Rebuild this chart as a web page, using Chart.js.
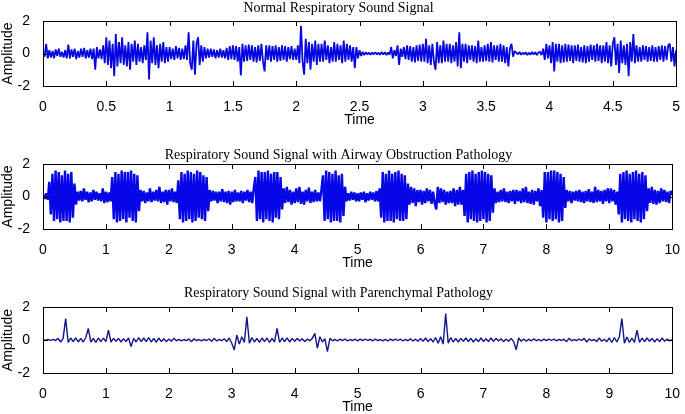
<!DOCTYPE html>
<html>
<head>
<meta charset="utf-8">
<script src="https://cdn.jsdelivr.net/npm/chart.js@4.4.0/dist/chart.umd.min.js"></script>
<style>
  html, body { margin: 0; padding: 0; background: #fff; overflow: hidden; }
  #wrap { position: relative; width: 685px; height: 414px; }
  canvas { position: absolute; left: 0; }
</style>
</head>
<body>
<div id="wrap">
  <canvas id="c1" width="685" height="130" style="top:0px"></canvas>
  <canvas id="c2" width="685" height="133" style="top:140px"></canvas>
  <canvas id="c3" width="685" height="137" style="top:280px"></canvas>
</div>
<script>
// subplot titles
const titles = [
  'Normal Respiratory Sound Signal',
  'Respiratory Sound Signal with Airway Obstruction Pathology',
  'Respiratory Sound Signal with Parenchymal Pathology'
];
const yTicks = [-2, 0, 2];

// sample spacing (s) for each trace
const dtNormal = 0.0125;
const dtAirway = 0.025;
const dtParen = 0.04;

// normal breathing, 0..5 s (16 samples per row = 0.2 s)
const normalSignal = [
  0.05, -0.2, 0.6, -0.3, 0.2, -0.25, 0.15, -0.3, 0.25, -0.15, 0.3, -0.2, 0.1, -0.25, 0.2, -0.3,
  0.55, -0.3, 0.25, -0.2, 0.3, -0.35, 0.15, -0.25, 0.3, -0.2, 0.35, -0.3, 0.2, -0.25, 0.3, -0.35,
  0.3, -1.0, 0.4, -0.3, 0.25, -0.35, 0.5, -0.6, 1.0, -0.7, 0.8, -0.9, 0.6, -1.4, 1.2, -0.8,
  0.7, -0.6, 1.0, -0.7, 0.5, -0.8, 0.7, -1.0, 0.6, -0.5, 0.8, -0.7, 0.6, -0.5, 0.4, -0.6,
  0.5, -0.4, 1.3, -1.6, 0.8, -0.6, 1.0, -0.7, 0.5, -0.9, 0.6, -0.5, 0.7, -0.6, 0.4, -0.5,
  0.4, -0.35, 0.3, -0.4, 0.45, -0.3, 0.35, -0.4, 0.3, -0.35, 0.5, -0.4, 1.3, -0.6, -1.0, 0.8,
  -1.3, 0.6, 1.0, -0.7, 0.5, -0.5, 0.4, -0.3, 0.3, -0.25, 0.3, -0.2, 0.25, -0.3, 0.2, -0.25,
  0.3, -0.25, 0.2, -0.3, 0.35, -0.4, 0.45, -0.35, 0.5, -0.4, 0.45, -0.5, 0.4, -1.35, 0.6, -0.5,
  0.5, -0.45, 0.55, -0.4, 0.5, -0.5, 0.4, -0.55, 0.5, -0.45, 0.6, -0.5, -1.1, 0.5, -0.4, 0.5,
  -0.5, 0.45, -0.4, 0.5, -0.5, 0.4, -0.45, 0.5, -0.4, 0.45, -0.5, 0.4, -0.35, 0.45, -0.4, 0.3,
  -0.4, 0.5, -0.6, 1.7, -0.5, -1.3, 0.9, -0.6, 0.7, -1.0, 0.6, -0.5, 0.8, -0.7, 0.6, -0.5,
  0.6, -0.5, 0.8, -0.4, 0.5, -0.6, 0.4, -0.5, 0.7, -0.5, 0.6, -0.4, 0.5, -0.6, 0.8, -0.5,
  0.6, -0.4, 0.5, -0.5, 0.4, -0.9, 0.4, -0.3, 0.2, -0.15, 0.1, -0.1, 0.08, -0.06, 0.05, -0.08,
  0.06, -0.05, 0.08, -0.06, 0.05, -0.08, 0.1, -0.06, 0.08, -0.1, 0.06, -0.08, 0.4, -0.3, 0.2, -0.15,
  0.5, -0.7, 0.3, -0.2, 0.4, -0.35, 0.5, -0.4, 0.45, -0.5, 0.4, -0.55, 0.5, -0.45, 0.55, -0.5,
  0.6, -0.5, 0.9, -0.6, 0.5, -0.7, 0.6, -0.5, -1.0, 0.7, -0.6, 0.5, -0.6, 0.8, -0.5, 0.6,
  -0.5, 0.6, -0.6, 0.5, -0.5, 0.7, -0.8, 1.3, -0.9, 0.6, -0.5, 0.6, -0.6, 0.5, -0.4, 0.5,
  -0.5, 0.45, -0.6, 0.8, -0.5, 0.4, -0.5, 0.5, -0.45, 0.6, -0.5, 0.7, -0.55, 0.5, -0.4, 0.5,
  -0.5, 0.6, -0.5, 0.5, -0.6, 0.4, -0.8, 0.3, 0.6, -0.2, 0.15, 0.05, -0.05, 0.1, -0.08, 0.05,
  -0.05, 0.08, -0.1, 0.05, -0.08, 0.1, -0.06, 0.08, -0.1, 0.06, 0.1, -0.1, 0.3, -0.4, 0.6, -0.3,
  0.5, -0.6, 0.7, -1.1, 0.6, -0.5, 0.6, -0.6, 0.5, -0.55, 0.6, -0.5, 0.55, -0.45, 0.5, -0.6,
  0.5, -0.45, 0.55, -0.5, 0.4, -0.55, 0.5, -0.6, 0.45, -0.5, 0.55, -0.4, 0.5, -0.5, 0.6, -0.45,
  0.5, -0.6, 0.5, -0.5, 0.7, -0.6, 0.5, -0.8, 0.6, 1.0, -0.7, 0.6, -1.2, 0.8, -0.6, 0.5,
  -0.7, 0.6, -1.4, 0.7, -0.5, 1.2, -0.6, 0.5, -0.5, 0.4, -0.5, 0.5, -0.4, 0.45, -0.5, 0.4,
  -0.45, 0.5, -0.5, 0.4, -0.5, 0.45, -0.4, 0.5, -0.5, 0.45, -0.4, 0.5, 0.6, -0.5, 0.4, -0.8,
  0.2
];

// airway obstruction, 0..10 s (20 samples per row = 0.5 s)
const airwaySignal = [
  0.1, -0.15, 0.2, -0.2, 0.9, -1.1, 1.4, -1.5, 1.6, -1.4, 1.5, -1.6, 1.3, -1.5, 1.6, -1.5, 1.4, -1.6, 1.5, -1.3,
  0.8, -0.5, 0.3, -0.25, 0.35, -0.3, 0.5, -0.2, 0.3, -0.35, 0.25, -0.3, 0.4, -0.2, 0.3, -0.25, 0.2, -0.3, 0.5, -0.4,
  0.3, -0.35, 0.25, -0.3, 1.2, -1.4, 1.5, -1.6, 1.4, -1.5, 1.6, -1.4, 1.5, -1.6, 1.5, -1.3, 1.6, -1.5, 1.4, -1.6,
  1.3, -0.9, 0.4, -0.3, 0.35, -0.4, 0.25, -0.3, 0.5, -0.35, 0.3, -0.25, 0.4, -0.3, 0.6, -0.4, 0.3, -0.35, 0.4, -0.5,
  0.4, -0.3, 0.5, -0.35, 0.3, -0.4, 1.0, -1.4, 1.5, -1.6, 1.4, -1.5, 1.6, -1.4, 1.5, -1.6, 1.4, -1.5, 1.6, -1.3,
  1.5, -1.4, 1.3, -1.5, 1.2, -0.9, 0.4, -0.3, 0.35, -0.25, 0.3, -0.4, 0.3, -0.3, 0.45, -0.35, 0.3, -0.4, 0.35, -0.5,
  0.3, -0.35, 0.4, -0.3, 0.25, -0.3, 0.35, -0.4, 0.3, -0.25, 0.4, -0.35, 0.3, -0.4, 0.5, 1.2, -1.5, 1.6, -1.4, 1.5,
  -1.6, 1.5, -1.4, 1.6, -1.5, 1.4, -1.6, 1.5, -1.3, 1.5, -1.4, 1.2, -0.8, 0.5, -0.4, 0.6, -0.35, 0.4, -0.5, 0.3,
  -0.4, 0.5, -0.35, 0.6, -0.45, 0.3, -0.5, 0.4, -0.3, 0.55, -0.4, 0.3, -0.35, 0.4, -0.3, 0.25, -0.3, 0.4, 1.3, -1.5,
  1.6, -1.4, 1.5, -1.6, 1.4, -1.5, 1.6, -1.5, 1.3, -1.6, 1.4, -1.2, 0.6, -0.3, 0.2, -0.25, 0.3, -0.2, 0.25, -0.3,
  0.2, -0.3, 0.25, -0.2, 0.3, -0.35, 0.2, -0.25, 0.3, -0.2, 0.25, -0.3, 0.35, -0.3, 0.5, -1.3, 1.5, -1.6, 1.4, -1.5,
  1.6, -1.5, 1.4, -1.6, 1.5, -1.4, 1.6, -1.5, 1.4, -1.5, 1.3, -1.4, 0.8, -0.5, 0.6, -0.4, 0.5, -0.6, 0.4, -0.35,
  0.4, -0.5, 0.35, -0.4, 0.5, -0.3, 0.4, -0.45, 0.3, -0.4, -0.8, 0.6, -0.4, 0.5, -0.35, 0.4, -0.5, 0.3, -0.4, 0.35,
  -0.4, 0.5, -0.6, 0.4, -0.5, 0.6, -0.5, 0.4, -1.2, 1.4, -1.6, 1.5, -1.4, 1.6, -1.5, 1.4, -1.6, 1.5, -1.5, 1.6,
  -1.4, 1.5, -1.6, 1.4, -1.5, 1.3, -1.0, 0.5, -0.4, 0.3, -0.35, 0.4, -0.3, 0.5, -0.35, 0.3, -0.4, 0.35, -0.3, 0.4,
  -0.45, 0.4, -0.3, 0.35, -0.4, 0.5, -0.35, 0.6, -0.4, 0.3, -0.45, 0.4, -0.5, 0.35, -0.3, 0.5, -0.6, 0.4, -1.3, 1.5,
  -1.6, 1.5, -1.4, 1.6, -1.5, 1.6, -1.4, 1.5, -1.6, 1.4, -1.5, 1.2, -0.7, 0.4, -0.3, 0.35, -0.4, 0.3, -0.25, 0.35,
  -0.3, 0.4, -0.35, 0.3, -0.4, 0.35, -0.3, 0.45, -0.35, 0.3, -0.4, 0.6, -0.35, 0.4, -0.3, 0.35, -0.45, 0.4, -0.3, 0.5,
  -0.4, 0.5, -0.3, 0.4, -0.5, 0.3, -1.1, 1.4, -1.6, 1.5, -1.4, 1.6, -1.5, 1.4, -1.6, 1.5, -1.4, 1.6, -1.5, 1.4,
  -1.6, 1.5, -1.4, 1.3, -0.9, 0.5, -0.4, 0.6, -0.45, 0.4, -0.5, 0.35, -0.4, 0.5, -0.3, 0.4, -0.35, 0.3, -0.4, 0.35,
  0.1
];

// parenchymal pathology, 0..10 s (25 samples per row = 1 s)
const parenSignal = [
  0.02, -0.03, 0.03, -0.02, 0.04, -0.03, 0.1, -0.12, 0.1, 1.3, -0.15, 0.12, -0.1, 0.13, -0.12, 0.1, -0.12, 0.15, 0.7, -0.12, 0.1, -0.14, 0.12, -0.1, 0.11,
  -0.1, 0.6, -0.12, 0.1, -0.08, 0.1, -0.12, 0.08, -0.1, 0.12, -0.4, 0.1, -0.12, 0.14, -0.1, 0.12, -0.1, 0.15, -0.12, 0.1, -0.14, 0.12, -0.1, 0.08, -0.1,
  0.06, -0.08, 0.1, -0.05, 0.04, -0.05, 0.03, -0.04, 0.06, -0.1, 0.08, -0.04, 0.03, -0.05, 0.04, -0.03, 0.06, -0.08, 0.1, -0.06, 0.04, -0.05, 0.08, -0.1, 0.12,
  -0.2, -0.6, 0.3, -0.25, 0.2, -0.15, 1.4, -0.2, 0.15, -0.12, 0.1, -0.14, 0.12, -0.1, 0.12, -0.15, 0.1, -0.12, 0.7, -0.15, 0.12, -0.1, 0.13, -0.12, 0.1,
  -0.08, 0.1, -0.06, 0.08, -0.1, 0.06, -0.05, 0.1, 0.4, -0.5, 0.2, -0.12, 0.08, -0.7, 0.1, -0.05, 0.04, -0.06, 0.05, -0.04, 0.06, -0.05, 0.03, -0.04, 0.05,
  -0.06, 0.05, -0.04, 0.06, -0.03, 0.04, -0.05, 0.06, -0.04, 0.03, -0.05, 0.04, -0.06, 0.05, -0.04, 0.06, -0.03, 0.05, -0.06, 0.04, -0.05, 0.08, -0.06, 0.05, -0.08,
  0.1, -0.08, 0.12, -0.1, 0.08, -0.12, 0.15, -0.2, 0.2, -0.25, 1.6, -0.2, 0.15, -0.12, 0.1, -0.12, 0.1, -0.08, 0.12, -0.1, 0.1, -0.12, 0.08, -0.1, 0.12,
  -0.1, 0.08, -0.1, 0.12, -0.08, 0.1, -0.06, 0.08, -0.1, 0.06, -0.08, 0.1, -0.1, -0.6, 0.12, -0.08, 0.06, -0.08, 0.05, -0.06, 0.08, -0.05, 0.04, -0.06, 0.05,
  -0.04, 0.05, -0.03, 0.06, -0.05, 0.04, -0.03, 0.05, -0.1, 0.1, -0.05, 0.03, -0.04, 0.05, -0.03, 0.1, -0.12, 0.06, -0.04, 0.03, -0.1, 0.12, -0.08, 0.05, -0.1,
  0.12, -0.15, 0.15, -0.12, 0.2, 1.3, -0.2, 0.18, -0.15, 0.12, -0.15, 0.6, -0.15, 0.12, -0.1, 0.12, -0.08, 0.1, -0.12, 0.08, -0.1, 0.12, -0.08, 0.06, -0.05,
  0.02
];

const toPoints = (arr, dt) => arr.map((v, i) => ({ x: +(i * dt).toFixed(4), y: v }));

// box around plot area + inward tick marks (matlab style)
const boxPlugin = {
  id: 'box',
  afterDraw(chart) {
    const { ctx, chartArea: a, scales } = chart;
    ctx.save();
    ctx.strokeStyle = '#000';
    ctx.lineWidth = 1;
    ctx.beginPath();
    scales.x.ticks.forEach(t => {
      const px = Math.round(scales.x.getPixelForValue(t.value)) + 0.5;
      ctx.moveTo(px, a.bottom); ctx.lineTo(px, a.bottom - 5);
      ctx.moveTo(px, a.top); ctx.lineTo(px, a.top + 5);
    });
    scales.y.ticks.forEach(t => {
      const py = Math.round(scales.y.getPixelForValue(t.value)) + 0.5;
      ctx.moveTo(a.left, py); ctx.lineTo(a.left + 5, py);
      ctx.moveTo(a.right, py); ctx.lineTo(a.right - 5, py);
    });
    ctx.stroke();
    ctx.strokeRect(Math.round(a.left) + 0.5, Math.round(a.top) + 0.5,
      Math.round(a.right - a.left), Math.round(a.bottom - a.top));
    ctx.restore();
  }
};

const tickFont = { family: 'Liberation Sans', size: 14 };

function makeChart(id, data, dt, xMax, xStep, title, titlePad, lineColor, lineWidth) {
  const ctx = document.getElementById(id).getContext('2d');
  return new Chart(ctx, {
    type: 'line',
    data: {
      datasets: [{
        data: toPoints(data, dt),
        borderColor: lineColor,
        borderWidth: lineWidth,
        borderJoinStyle: 'bevel',
        pointRadius: 0,
        tension: 0,
        fill: false
      }]
    },
    options: {
      responsive: false,
      animation: false,
      layout: { padding: { left: 0, right: 8, top: 0, bottom: 0 } },
      plugins: {
        legend: { display: false },
        tooltip: { enabled: false },
        title: {
          display: true,
          text: title,
          color: '#000',
          font: { family: 'Liberation Serif', size: 14, weight: 'normal' },
          padding: titlePad
        }
      },
      scales: {
        x: {
          type: 'linear',
          min: 0,
          max: xMax,
          grid: { display: false },
          border: { display: false },
          ticks: {
            stepSize: xStep, color: '#000', font: tickFont, padding: 5, maxRotation: 0, autoSkip: false,
            callback: v => String(+v.toFixed(2))
          },
          title: { display: true, text: 'Time', color: '#000', font: tickFont, padding: { top: 0, bottom: 1.6 } },
          afterFit(scale) { scale.height = 44; }
        },
        y: {
          min: -2,
          max: 2,
          afterBuildTicks(scale) { scale.ticks = yTicks.map(v => ({ value: v })); },
          grid: { display: false },
          border: { display: false },
          ticks: { color: '#000', font: tickFont, padding: 5 },
          title: { display: true, text: 'Amplitude', color: '#000', font: tickFont, padding: { top: 0, bottom: 0 } },
          afterFit(scale) { scale.width = 43; }
        }
      }
    },
    plugins: [boxPlugin]
  });
}

makeChart('c1', normalSignal, dtNormal, 5, 0.5, titles[0], { top: 0, bottom: 4.2 }, '#0606e0', 1.8);
makeChart('c2', airwaySignal, dtAirway, 10, 1, titles[1], { top: 6.6, bottom: 0.6 }, '#0606e6', 2.4);
makeChart('c3', parenSignal, dtParen, 10, 1, titles[2], { top: 4.6, bottom: 5.6 }, '#15158a', 1.4);
</script>
</body>
</html>
